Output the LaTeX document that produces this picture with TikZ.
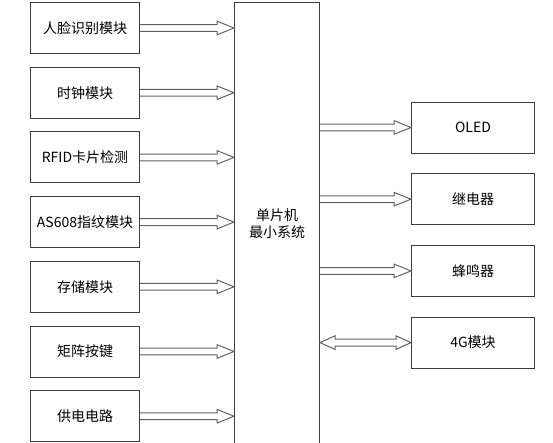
\documentclass[tikz,border=0pt]{standalone}
\usepackage{fontspec}
\setmainfont{Noto Sans CJK SC}
\usepackage{tikz}
\usetikzlibrary{positioning,calc}
\definecolor{mygray}{RGB}{60,60,60}
\definecolor{arrowgray}{RGB}{95,95,95}
\tikzset{
    block/.style    = {draw=mygray, line width=1pt, fill=white,
            minimum width=109pt, minimum height=51pt,
            align=center, font=\fontsize{14}{17}\selectfont},
    outblock/.style = {block, minimum width=123pt},
    mcublock/.style = {block, minimum width=85pt, minimum height=443pt},
    hollow/.style   = {draw=arrowgray, line width=1pt, line join=miter},
}
\newcommand{\hollowarrow}[2]{%
    \path #1 coordinate (hs) #2 coordinate (he);
    \draw[hollow] ($(hs)+(0,3.4)$) -- ($(he)+(-17,3.4)$) -- ($(he)+(-17,6.8)$) -- (he)
    -- ($(he)+(-17,-6.8)$) -- ($(he)+(-17,-3.4)$) -- ($(hs)+(0,-3.4)$);}
\newcommand{\dualarrow}[2]{%
    \path #1 coordinate (hs) #2 coordinate (he);
    \draw[hollow] ($(hs)+(15,3.4)$) -- ($(he)+(-15,3.4)$) -- ($(he)+(-15,6.8)$) -- (he)
    -- ($(he)+(-15,-6.8)$) -- ($(he)+(-15,-3.4)$) -- ($(hs)+(15,-3.4)$)
    -- ($(hs)+(15,-6.8)$) -- (hs) -- ($(hs)+(15,6.8)$) -- cycle;}
\begin{document}
\begin{tikzpicture}[x=1pt, y=1pt, node distance=12.7pt and 0pt]
    \useasboundingbox (0,0) rectangle (553,-442);
    \clip (0,0) rectangle (553,-442);
    % Inputs
    \node[block] (face) at (85,-28) {人脸识别模块};
    \node[block, below=of face] (clock) {时钟模块};
    \node[block, below=of clock] (rfid) {RFID卡片检测};
    \node[block, below=of rfid] (finger) {AS608指纹模块};
    \node[block, below=of finger] (storage) {存储模块};
    \node[block, below=of storage] (keypad) {矩阵按键};
    \node[block, below=of keypad] (power) {供电电路};
    % Controller
    \node[mcublock] (mcu) at (277,-223.5) {单片机\\最小系统};
    % Outputs
    \node[outblock] (oled) at (473,-127.5) {OLED};
    \node[outblock, below=19.7pt of oled] (relay) {继电器};
    \node[outblock, below=19.7pt of relay] (buzzer) {蜂鸣器};
    \node[outblock, below=19.7pt of buzzer] (gsm) {4G模块};
    % Arrows
    \hollowarrow{(face.east)}{(mcu.west |- face.east)}
    \hollowarrow{(clock.east)}{(mcu.west |- clock.east)}
    \hollowarrow{(rfid.east)}{(mcu.west |- rfid.east)}
    \hollowarrow{(finger.east)}{(mcu.west |- finger.east)}
    \hollowarrow{(storage.east)}{(mcu.west |- storage.east)}
    \hollowarrow{(keypad.east)}{(mcu.west |- keypad.east)}
    \hollowarrow{(power.east)}{(mcu.west |- power.east)}
    \hollowarrow{(mcu.east |- oled.west)}{(oled.west)}
    \hollowarrow{(mcu.east |- relay.west)}{(relay.west)}
    \hollowarrow{(mcu.east |- buzzer.west)}{(buzzer.west)}
    \dualarrow{(mcu.east |- gsm.west)}{(gsm.west)}
\end{tikzpicture}
\end{document}
